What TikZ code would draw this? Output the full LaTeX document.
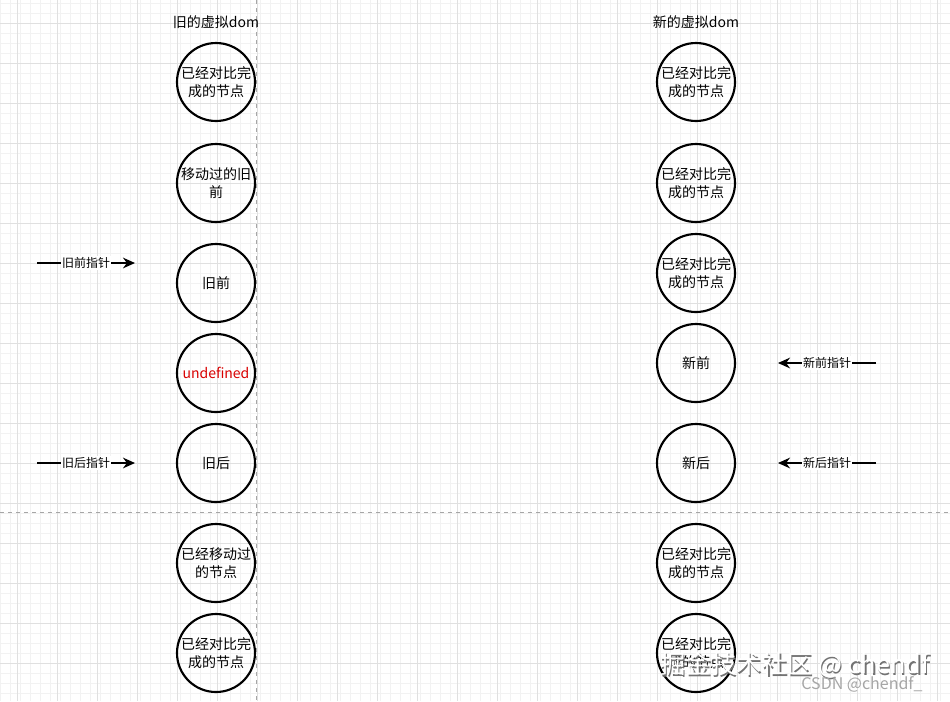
\documentclass[tikz,border=0pt]{standalone}
\usepackage{fontspec}
\setmainfont{Noto Sans CJK SC}
\usetikzlibrary{arrows.meta}
\begin{document}
\begin{tikzpicture}[x=0.75pt,y=-0.75pt,
  cnode/.style={circle,draw,line width=1.6pt,minimum size=78*0.75pt,inner sep=0pt,align=center,font=\fontsize{10.5}{13}\selectfont},
  ptr/.style={line width=1.3pt,-{Stealth[length=9pt,width=8pt]}},
  lbl/.style={fill=white,inner sep=1pt,font=\fontsize{9}{11}\selectfont},
  ttl/.style={font=\fontsize{10.5}{13}\selectfont}]
\useasboundingbox (0,0) rectangle (950,701);
\fill[white] (0,0) rectangle (950,701);
\foreach \x in {0,10,...,950} \draw[black!5,line width=0.4pt] (\x,0) -- (\x,701);
\foreach \y in {3,13,...,701} \draw[black!5,line width=0.4pt] (0,\y) -- (950,\y);
\foreach \x in {17,57,...,950} \draw[black!12,line width=0.5pt] (\x,0) -- (\x,701);
\foreach \y in {23,63,...,701} \draw[black!12,line width=0.5pt] (0,\y) -- (950,\y);
\draw[black!35,dashed,line width=0.5pt] (256,0) -- (256,701);
\draw[black!35,dashed,line width=0.5pt] (0,512) -- (950,512);
\node[ttl] (t1) at (216,22) {旧的虚拟dom};
\node[ttl] (t2) at (696,22) {新的虚拟dom};
\node[cnode] (l1) at (216,82) {已经对比完\\成的节点};
\node[cnode] (l2) at (216,183) {移动过的旧\\前};
\node[cnode] (l3) at (216,283) {旧前};
\node[cnode,text=red!85!black] (l4) at (216,373) {undefined};
\node[cnode] (l5) at (216,463) {旧后};
\node[cnode] (l6) at (216,563) {已经移动过\\的节点};
\node[cnode] (l7) at (216,653) {已经对比完\\成的节点};
\node[cnode] (r1) at (696,82) {已经对比完\\成的节点};
\node[cnode] (r2) at (696,183) {已经对比完\\成的节点};
\node[cnode] (r3) at (696,273) {已经对比完\\成的节点};
\node[cnode] (r4) at (696,363) {新前};
\node[cnode] (r5) at (696,463) {新后};
\node[cnode] (r6) at (696,563) {已经对比完\\成的节点};
\node[cnode] (r7) at (696,653) {已经对比完\\成的节点};
\coordinate (a1s) at (37,263); \coordinate (a1e) at (135,263);
\coordinate (a2s) at (37,463); \coordinate (a2e) at (135,463);
\coordinate (a3s) at (876,363); \coordinate (a3e) at (778,363);
\coordinate (a4s) at (876,463); \coordinate (a4e) at (778,463);
\draw[ptr] (a1s) -- node[lbl] (p1) {旧前指针} (a1e);
\draw[ptr] (a2s) -- node[lbl] (p2) {旧后指针} (a2e);
\draw[ptr] (a3s) -- node[lbl] (p3) {新前指针} (a3e);
\draw[ptr] (a4s) -- node[lbl] (p4) {新后指针} (a4e);
\node[text=black!55,font=\fontsize{19}{23}\selectfont] (w0) at (796.5,666.5) {掘金技术社区 @ chendf};
\node[text=white,font=\fontsize{19}{23}\selectfont] (w1) at (795,665) {掘金技术社区 @ chendf};
\node[text=black!35,font=\fontsize{12}{14}\selectfont] (w2) at (862,684) {CSDN @chendf\_};
\end{tikzpicture}
\end{document}
